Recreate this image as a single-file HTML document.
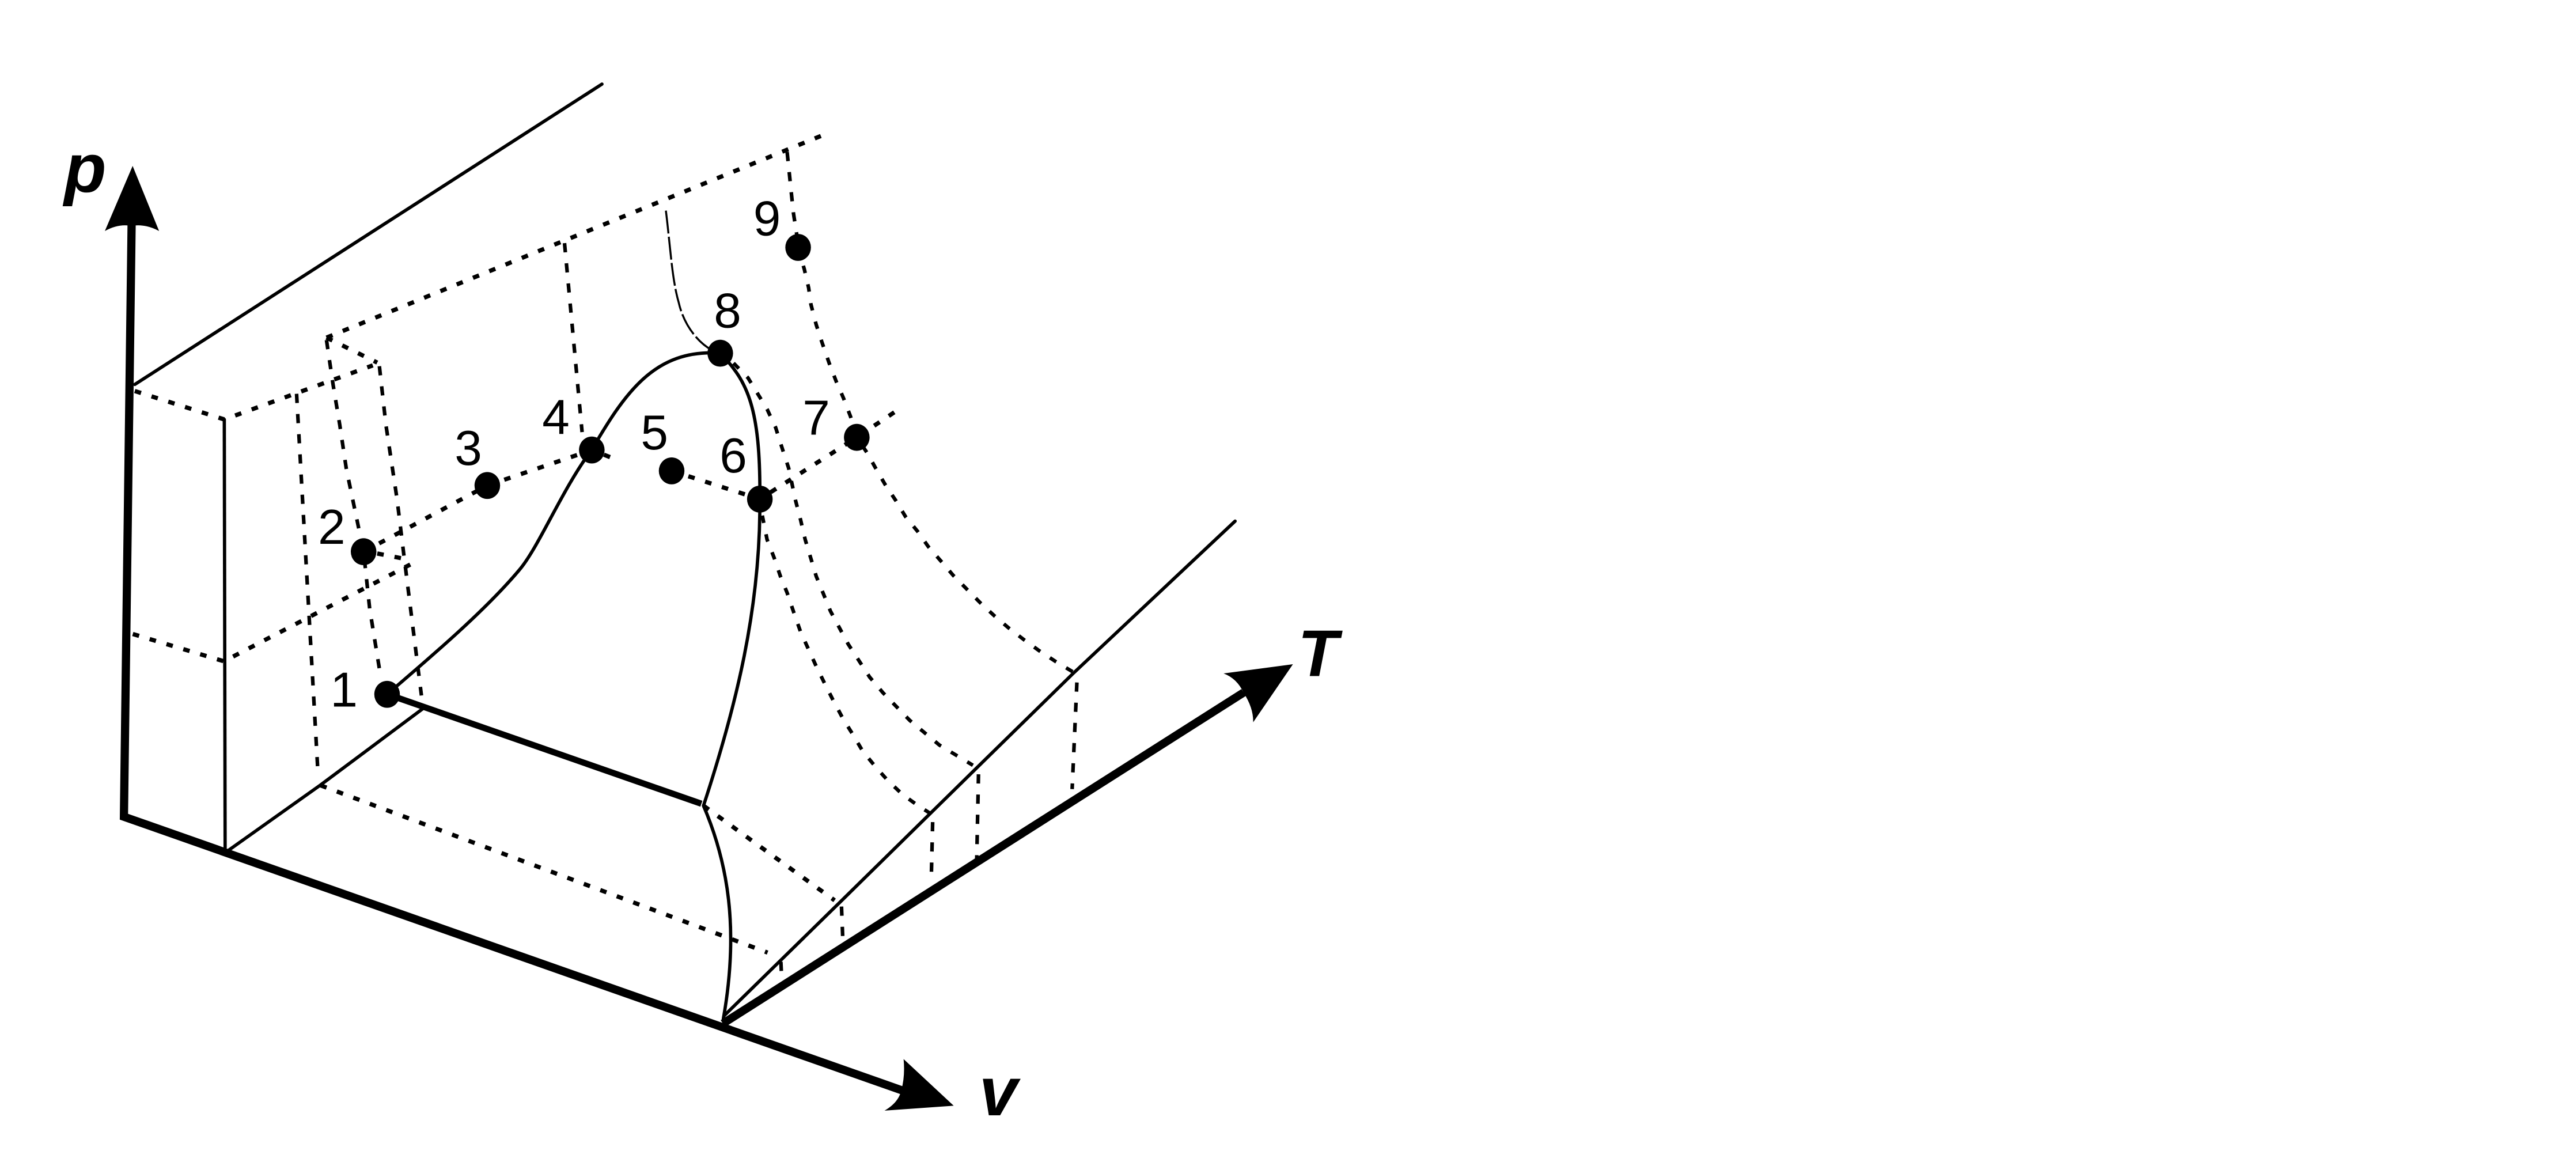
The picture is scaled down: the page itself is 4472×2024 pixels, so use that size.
<!DOCTYPE html>
<html><head><meta charset="utf-8"><style>
html,body{margin:0;padding:0;background:#fff}
svg{display:block}
text{font-family:"Liberation Sans",sans-serif;fill:#000}
.n{font-size:30px}
.a{font-size:42px;font-weight:bold;font-style:italic}
.s{fill:none;stroke:#000;stroke-width:2;stroke-linecap:round;stroke-linejoin:round}
.d{fill:none;stroke:#000;stroke-width:2.6;stroke-dasharray:4 6.7}
.v{fill:none;stroke:#000;stroke-width:2.2;stroke-dasharray:5.6 6.7}
.c{fill:none;stroke:#000;stroke-width:2.2;stroke-dasharray:4.6 7}
.x{fill:none;stroke:#000;stroke-width:5;stroke-linecap:butt;stroke-linejoin:miter}
</style></head><body>
<svg xmlns="http://www.w3.org/2000/svg" width="4472" height="2024" viewBox="0 0 1568 709.7">
<rect width="1568" height="710" fill="#fff"/>
<!-- axes -->
<path class="x" d="M80.1 135 L75.4 497.100 L550 664"/>
<path class="x" d="M440 623 L757 421.500"/>
<path d="M80.7 101 L96.800 140.600 Q88 136 80.100 137.500 Q72 136 63.800 140.600Z"/>
<path d="M580.500 673 L538.400 676 Q547 671 548.600 663.600 Q551 655 550 644.600Z"/>
<path d="M787 404.300 L744.800 409.900 Q753 413 757 421.700 Q763 431 762.800 439.600Z"/>
<text class="a" x="39" y="116.700">p</text>
<text class="a" x="596" y="678.800">v</text>
<text class="a" x="790" y="411.400" style="font-size:40px">T</text>
<!-- solid thin -->
<path class="s" d="M82 234 L366.400 51.200"/>
<path class="s" d="M136.500 255.300 L137 516"/>
<path class="s" d="M137 519 L194.800 478 L257.800 431"/>
<path class="s" d="M441 618 L510.800 549.600 L567.400 494 L595 466.900 L653.200 409.900 L751.800 317.200"/>
<path class="s" d="M235.600 422.600 C262 400 295 372 316 347 C328 333 342 298 360 274 C380 240 398 212 438.400 215"/>
<path class="s" d="M438.400 215 C455 232 463 248 462.500 304 C463 370 448 430 428.200 490.400 C443 525 450 565 440.300 620"/>
<path d="M240 424 L426.900 489.200" fill="none" stroke="#000" stroke-width="3.8"/>
<!-- dashed -->
<path class="d" d="M82 238 L136.500 255.300 L226.900 222.400"/>
<path class="d" d="M198.700 205.500 L503.200 81.300"/>
<path class="d" d="M198.700 205.500 L229.600 220.700"/>
<path class="d" d="M80.800 385.900 L136.300 402.500 L249.700 343.600"/>
<path class="d" d="M229.600 336.900 L247 340.300"/>
<path class="d" d="M195 478 L467.200 579.800"/>
<path class="d" d="M428.200 490.400 L508 548"/>
<path class="d" d="M221.300 335.800 L296.600 295.500 L360.200 273.900 L372 278.500"/>
<path class="d" d="M408.800 286.600 L462.500 303.800 L521.500 266.200 L548.300 248.300"/>
<path class="v" d="M180.500 239.700 L186.600 348.100 L193.500 470.200"/>
<path class="v" d="M198.700 207 L202.700 234 L206.800 258.700 L210.800 285.500 L221.300 335.800 L225 370.500 L231 407.600"/>
<path class="v" d="M230.900 222.900 L234.900 258.700 L241.600 303.400 L245.700 336.900 L251 379.400 L256.500 423.300"/>
<path class="v" d="M343.600 148 L354.300 263"/>
<path class="v" d="M479.100 92.500 L482.900 129.400 L485 143"/>
<path class="c" d="M485.800 150.600 L489.600 164 L492.200 175.200 L493.600 185.300 L496.800 197.600 L500.300 208.300 L504.700 221 L509 232.200 L513.400 242.300 L517.700 253.500 L521.500 266.200 L527.900 275.800 L532.900 284.800 L538.700 294.800 L545.400 304.900 L551.200 314.500 L558.500 323.400 L565.100 332.800 L573 341.800 L580.300 350.300 L588.400 358.500 L596.800 367 L605 374.600 L613.700 382 L623.300 389.400 L632.600 396.100 L642.800 402.800 L653 408.900"/>
<path class="c" d="M446.500 221 L455.300 230 L466.900 249 L472.100 260.200 L475.600 271.300 L480 284.800 L484.300 304.900 L487.200 316 L490.100 328.400 L496.800 350.700 L505.500 372 L516.300 392.100 L529.400 412.200 L537.500 421.700 L553.800 438.500 L571.800 453.500 L592.200 465.800"/>
<path class="c" d="M464 313.800 L466.900 328.400 L471.200 339.500 L475 350.700 L479.100 360.800 L482.900 372 L487.200 384.300 L492.200 395.400 L496.800 405.500 L502.300 416.700 L507.300 426.600 L513.100 437.400 L518.900 446.700 L525.300 457.500 L533.100 466.900 L540.400 475.100 L549.400 483.600 L558.700 490.300 L567.700 496"/>
<path class="v" d="M512.200 551.800 L513.100 574.200"/>
<path class="v" d="M475.300 585.400 L475.900 597.700"/>
<path class="v" d="M567.700 500.400 L566.900 532.800"/>
<path class="v" d="M595.600 471.300 L594.500 523.900"/>
<path class="v" d="M655.500 415.400 L652.600 480.300"/>
<path d="M405.300 128.200 C408 150 409 170 413.100 184.100 C416 197 424 208 433.500 213.200" fill="none" stroke="#000" stroke-width="1.2" stroke-dasharray="14 2"/>
<!-- dots -->
<g>
<ellipse cx="235.600" cy="422.600" rx="7.800" ry="8.200"/>
<ellipse cx="221.300" cy="335.800" rx="7.800" ry="8.200"/>
<ellipse cx="296.600" cy="295.500" rx="7.800" ry="8.200"/>
<ellipse cx="360.200" cy="273.900" rx="7.800" ry="8.200"/>
<ellipse cx="408.800" cy="286.600" rx="7.800" ry="8.200"/>
<ellipse cx="462.500" cy="303.800" rx="7.800" ry="8.200"/>
<ellipse cx="521.500" cy="266.200" rx="7.800" ry="8.200"/>
<ellipse cx="438.400" cy="215" rx="7.800" ry="8.200"/>
<ellipse cx="485.800" cy="150.600" rx="7.800" ry="8.200"/>
</g>
<!-- labels -->
<text class="n" x="201" y="430">1</text>
<text class="n" x="193.500" y="331">2</text>
<text class="n" x="276.700" y="283">3</text>
<text class="n" x="330" y="264.300">4</text>
<text class="n" x="390" y="273.500">5</text>
<text class="n" x="438" y="287.500">6</text>
<text class="n" x="488.500" y="264.500">7</text>
<text class="n" x="434.500" y="199.300">8</text>
<text class="n" x="458.500" y="143.200">9</text>
</svg>
</body></html>
